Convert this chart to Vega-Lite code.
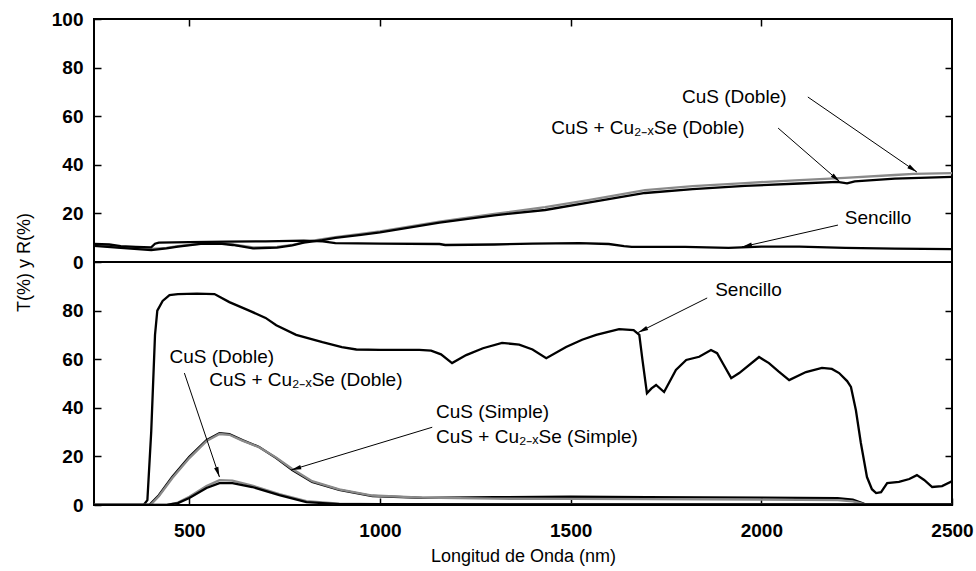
{
  "$schema": "https://vega.github.io/schema/vega-lite/v6.json",
  "background": "white",
  "padding": {"left": 14, "top": 9, "right": 5, "bottom": 5},
  "spacing": 0,
  "bounds": "flush",
  "config": {
    "view": {"stroke": "black", "strokeWidth": 2},
    "font": "Liberation Sans",
    "axis": {
      "grid": false, "domain": false, "tickColor": "black", "tickSize": -7, "tickWidth": 1.5,
      "labelColor": "black", "labelFont": "Liberation Sans", "labelFontSize": 19, "labelFontWeight": "bold",
      "labelFlush": false, "labelOverlap": false, "format": "d",
      "titleColor": "black", "titleFont": "Liberation Sans", "titleFontSize": 18, "titleFontWeight": "normal"
    }
  },
  "datasets": {
    "R": [
      {"serie": "CuS (Doble)", "nm": 250, "pct": 7}, {"serie": "CuS (Doble)", "nm": 320, "pct": 6}, {"serie": "CuS (Doble)", "nm": 400, "pct": 5.4}, {"serie": "CuS (Doble)", "nm": 440, "pct": 5.8}, {"serie": "CuS (Doble)", "nm": 470, "pct": 6.5}, {"serie": "CuS (Doble)", "nm": 530, "pct": 7.6}, {"serie": "CuS (Doble)", "nm": 580, "pct": 7.8}, {"serie": "CuS (Doble)", "nm": 614, "pct": 7.2}, {"serie": "CuS (Doble)", "nm": 667, "pct": 6}, {"serie": "CuS (Doble)", "nm": 730, "pct": 6.2}, {"serie": "CuS (Doble)", "nm": 770, "pct": 7}, {"serie": "CuS (Doble)", "nm": 800, "pct": 8.2}, {"serie": "CuS (Doble)", "nm": 849, "pct": 9.4}, {"serie": "CuS (Doble)", "nm": 883, "pct": 10.2}, {"serie": "CuS (Doble)", "nm": 950, "pct": 11.6}, {"serie": "CuS (Doble)", "nm": 1000, "pct": 12.6}, {"serie": "CuS (Doble)", "nm": 1156, "pct": 16.6}, {"serie": "CuS (Doble)", "nm": 1300, "pct": 19.8}, {"serie": "CuS (Doble)", "nm": 1433, "pct": 22.6}, {"serie": "CuS (Doble)", "nm": 1550, "pct": 25.6}, {"serie": "CuS (Doble)", "nm": 1695, "pct": 29.6}, {"serie": "CuS (Doble)", "nm": 1820, "pct": 31.2}, {"serie": "CuS (Doble)", "nm": 1957, "pct": 32.5}, {"serie": "CuS (Doble)", "nm": 2100, "pct": 33.7}, {"serie": "CuS (Doble)", "nm": 2219, "pct": 34.6}, {"serie": "CuS (Doble)", "nm": 2350, "pct": 35.8}, {"serie": "CuS (Doble)", "nm": 2400, "pct": 36.3}, {"serie": "CuS (Doble)", "nm": 2500, "pct": 36.6},
      {"serie": "CuS + Cu2-xSe (Doble)", "nm": 250, "pct": 6.6}, {"serie": "CuS + Cu2-xSe (Doble)", "nm": 320, "pct": 5.8}, {"serie": "CuS + Cu2-xSe (Doble)", "nm": 400, "pct": 4.9}, {"serie": "CuS + Cu2-xSe (Doble)", "nm": 440, "pct": 5.6}, {"serie": "CuS + Cu2-xSe (Doble)", "nm": 470, "pct": 6.3}, {"serie": "CuS + Cu2-xSe (Doble)", "nm": 530, "pct": 7.5}, {"serie": "CuS + Cu2-xSe (Doble)", "nm": 580, "pct": 7.6}, {"serie": "CuS + Cu2-xSe (Doble)", "nm": 614, "pct": 7}, {"serie": "CuS + Cu2-xSe (Doble)", "nm": 667, "pct": 5.6}, {"serie": "CuS + Cu2-xSe (Doble)", "nm": 730, "pct": 5.9}, {"serie": "CuS + Cu2-xSe (Doble)", "nm": 770, "pct": 6.8}, {"serie": "CuS + Cu2-xSe (Doble)", "nm": 800, "pct": 8}, {"serie": "CuS + Cu2-xSe (Doble)", "nm": 849, "pct": 9}, {"serie": "CuS + Cu2-xSe (Doble)", "nm": 883, "pct": 9.9}, {"serie": "CuS + Cu2-xSe (Doble)", "nm": 950, "pct": 11.2}, {"serie": "CuS + Cu2-xSe (Doble)", "nm": 1000, "pct": 12.2}, {"serie": "CuS + Cu2-xSe (Doble)", "nm": 1156, "pct": 16.2}, {"serie": "CuS + Cu2-xSe (Doble)", "nm": 1300, "pct": 19.2}, {"serie": "CuS + Cu2-xSe (Doble)", "nm": 1433, "pct": 21.4}, {"serie": "CuS + Cu2-xSe (Doble)", "nm": 1550, "pct": 24.5}, {"serie": "CuS + Cu2-xSe (Doble)", "nm": 1695, "pct": 28.4}, {"serie": "CuS + Cu2-xSe (Doble)", "nm": 1820, "pct": 30}, {"serie": "CuS + Cu2-xSe (Doble)", "nm": 1957, "pct": 31.3}, {"serie": "CuS + Cu2-xSe (Doble)", "nm": 2100, "pct": 32.3}, {"serie": "CuS + Cu2-xSe (Doble)", "nm": 2200, "pct": 33}, {"serie": "CuS + Cu2-xSe (Doble)", "nm": 2225, "pct": 32.4}, {"serie": "CuS + Cu2-xSe (Doble)", "nm": 2245, "pct": 33.2}, {"serie": "CuS + Cu2-xSe (Doble)", "nm": 2350, "pct": 34.3}, {"serie": "CuS + Cu2-xSe (Doble)", "nm": 2500, "pct": 35},
      {"serie": "Sencillo", "nm": 250, "pct": 7.5}, {"serie": "Sencillo", "nm": 290, "pct": 7.2}, {"serie": "Sencillo", "nm": 320, "pct": 6.5}, {"serie": "Sencillo", "nm": 360, "pct": 6.2}, {"serie": "Sencillo", "nm": 400, "pct": 6}, {"serie": "Sencillo", "nm": 410, "pct": 7.5}, {"serie": "Sencillo", "nm": 420, "pct": 8}, {"serie": "Sencillo", "nm": 500, "pct": 8.2}, {"serie": "Sencillo", "nm": 600, "pct": 8.4}, {"serie": "Sencillo", "nm": 700, "pct": 8.5}, {"serie": "Sencillo", "nm": 800, "pct": 8.8}, {"serie": "Sencillo", "nm": 850, "pct": 8.5}, {"serie": "Sencillo", "nm": 883, "pct": 7.8}, {"serie": "Sencillo", "nm": 1000, "pct": 7.6}, {"serie": "Sencillo", "nm": 1156, "pct": 7.4}, {"serie": "Sencillo", "nm": 1171, "pct": 7}, {"serie": "Sencillo", "nm": 1300, "pct": 7.2}, {"serie": "Sencillo", "nm": 1400, "pct": 7.6}, {"serie": "Sencillo", "nm": 1522, "pct": 7.8}, {"serie": "Sencillo", "nm": 1600, "pct": 7.4}, {"serie": "Sencillo", "nm": 1640, "pct": 6.5}, {"serie": "Sencillo", "nm": 1660, "pct": 6.2}, {"serie": "Sencillo", "nm": 1800, "pct": 6.2}, {"serie": "Sencillo", "nm": 1914, "pct": 5.8}, {"serie": "Sencillo", "nm": 2000, "pct": 6.3}, {"serie": "Sencillo", "nm": 2100, "pct": 6.3}, {"serie": "Sencillo", "nm": 2220, "pct": 5.8}, {"serie": "Sencillo", "nm": 2350, "pct": 5.5}, {"serie": "Sencillo", "nm": 2500, "pct": 5.3}
    ],
    "T": [
      {"serie": "Sencillo", "nm": 250, "pct": 0}, {"serie": "Sencillo", "nm": 380, "pct": 0}, {"serie": "Sencillo", "nm": 390, "pct": 2}, {"serie": "Sencillo", "nm": 400, "pct": 30}, {"serie": "Sencillo", "nm": 410, "pct": 70}, {"serie": "Sencillo", "nm": 416, "pct": 80}, {"serie": "Sencillo", "nm": 430, "pct": 84}, {"serie": "Sencillo", "nm": 448, "pct": 86.4}, {"serie": "Sencillo", "nm": 470, "pct": 86.8}, {"serie": "Sencillo", "nm": 520, "pct": 87}, {"serie": "Sencillo", "nm": 566, "pct": 86.8}, {"serie": "Sencillo", "nm": 605, "pct": 83.5}, {"serie": "Sencillo", "nm": 657, "pct": 80}, {"serie": "Sencillo", "nm": 700, "pct": 77}, {"serie": "Sencillo", "nm": 728, "pct": 74}, {"serie": "Sencillo", "nm": 780, "pct": 70}, {"serie": "Sencillo", "nm": 849, "pct": 67}, {"serie": "Sencillo", "nm": 900, "pct": 65}, {"serie": "Sencillo", "nm": 938, "pct": 64}, {"serie": "Sencillo", "nm": 1000, "pct": 63.8}, {"serie": "Sencillo", "nm": 1103, "pct": 63.8}, {"serie": "Sencillo", "nm": 1134, "pct": 63.5}, {"serie": "Sencillo", "nm": 1160, "pct": 62}, {"serie": "Sencillo", "nm": 1189, "pct": 58.4}, {"serie": "Sencillo", "nm": 1226, "pct": 61.7}, {"serie": "Sencillo", "nm": 1270, "pct": 64.5}, {"serie": "Sencillo", "nm": 1320, "pct": 66.7}, {"serie": "Sencillo", "nm": 1365, "pct": 66}, {"serie": "Sencillo", "nm": 1400, "pct": 64}, {"serie": "Sencillo", "nm": 1436, "pct": 60.4}, {"serie": "Sencillo", "nm": 1488, "pct": 65}, {"serie": "Sencillo", "nm": 1530, "pct": 68}, {"serie": "Sencillo", "nm": 1567, "pct": 70}, {"serie": "Sencillo", "nm": 1627, "pct": 72.4}, {"serie": "Sencillo", "nm": 1665, "pct": 72}, {"serie": "Sencillo", "nm": 1680, "pct": 70}, {"serie": "Sencillo", "nm": 1688, "pct": 60}, {"serie": "Sencillo", "nm": 1700, "pct": 46}, {"serie": "Sencillo", "nm": 1712, "pct": 48}, {"serie": "Sencillo", "nm": 1724, "pct": 49.4}, {"serie": "Sencillo", "nm": 1745, "pct": 46.5}, {"serie": "Sencillo", "nm": 1776, "pct": 55.6}, {"serie": "Sencillo", "nm": 1803, "pct": 59.7}, {"serie": "Sencillo", "nm": 1837, "pct": 61}, {"serie": "Sencillo", "nm": 1868, "pct": 63.8}, {"serie": "Sencillo", "nm": 1884, "pct": 62.5}, {"serie": "Sencillo", "nm": 1900, "pct": 58}, {"serie": "Sencillo", "nm": 1921, "pct": 52.2}, {"serie": "Sencillo", "nm": 1942, "pct": 54.3}, {"serie": "Sencillo", "nm": 1994, "pct": 60.9}, {"serie": "Sencillo", "nm": 2020, "pct": 58.4}, {"serie": "Sencillo", "nm": 2045, "pct": 55}, {"serie": "Sencillo", "nm": 2073, "pct": 51.4}, {"serie": "Sencillo", "nm": 2117, "pct": 54.7}, {"serie": "Sencillo", "nm": 2159, "pct": 56.4}, {"serie": "Sencillo", "nm": 2185, "pct": 56}, {"serie": "Sencillo", "nm": 2204, "pct": 54.3}, {"serie": "Sencillo", "nm": 2225, "pct": 51}, {"serie": "Sencillo", "nm": 2235, "pct": 48.6}, {"serie": "Sencillo", "nm": 2248, "pct": 39}, {"serie": "Sencillo", "nm": 2261, "pct": 25.5}, {"serie": "Sencillo", "nm": 2277, "pct": 11.5}, {"serie": "Sencillo", "nm": 2290, "pct": 6.5}, {"serie": "Sencillo", "nm": 2301, "pct": 4.9}, {"serie": "Sencillo", "nm": 2314, "pct": 5.3}, {"serie": "Sencillo", "nm": 2330, "pct": 9}, {"serie": "Sencillo", "nm": 2361, "pct": 9.5}, {"serie": "Sencillo", "nm": 2388, "pct": 10.7}, {"serie": "Sencillo", "nm": 2408, "pct": 12.3}, {"serie": "Sencillo", "nm": 2427, "pct": 10.3}, {"serie": "Sencillo", "nm": 2448, "pct": 7.4}, {"serie": "Sencillo", "nm": 2474, "pct": 7.8}, {"serie": "Sencillo", "nm": 2497, "pct": 9.5}, {"serie": "Sencillo", "nm": 2500, "pct": 10},
      {"serie": "CuS (Simple)", "nm": 250, "pct": 0}, {"serie": "CuS (Simple)", "nm": 395, "pct": 0}, {"serie": "CuS (Simple)", "nm": 420, "pct": 4}, {"serie": "CuS (Simple)", "nm": 455, "pct": 11.5}, {"serie": "CuS (Simple)", "nm": 500, "pct": 19.8}, {"serie": "CuS (Simple)", "nm": 545, "pct": 26.7}, {"serie": "CuS (Simple)", "nm": 579, "pct": 29.6}, {"serie": "CuS (Simple)", "nm": 605, "pct": 29.2}, {"serie": "CuS (Simple)", "nm": 639, "pct": 26.7}, {"serie": "CuS (Simple)", "nm": 683, "pct": 23.9}, {"serie": "CuS (Simple)", "nm": 728, "pct": 19.3}, {"serie": "CuS (Simple)", "nm": 770, "pct": 14.4}, {"serie": "CuS (Simple)", "nm": 822, "pct": 9.5}, {"serie": "CuS (Simple)", "nm": 893, "pct": 6.2}, {"serie": "CuS (Simple)", "nm": 980, "pct": 3.7}, {"serie": "CuS (Simple)", "nm": 1111, "pct": 2.9}, {"serie": "CuS (Simple)", "nm": 1300, "pct": 3.2}, {"serie": "CuS (Simple)", "nm": 1500, "pct": 3.4}, {"serie": "CuS (Simple)", "nm": 1700, "pct": 3.2}, {"serie": "CuS (Simple)", "nm": 2000, "pct": 3}, {"serie": "CuS (Simple)", "nm": 2200, "pct": 2.8}, {"serie": "CuS (Simple)", "nm": 2240, "pct": 2.2}, {"serie": "CuS (Simple)", "nm": 2270, "pct": 0.5}, {"serie": "CuS (Simple)", "nm": 2300, "pct": 0.2}, {"serie": "CuS (Simple)", "nm": 2500, "pct": 0.2},
      {"serie": "CuS + Cu2-xSe (Simple)", "nm": 250, "pct": 0}, {"serie": "CuS + Cu2-xSe (Simple)", "nm": 398, "pct": 0}, {"serie": "CuS + Cu2-xSe (Simple)", "nm": 420, "pct": 3.6}, {"serie": "CuS + Cu2-xSe (Simple)", "nm": 455, "pct": 11}, {"serie": "CuS + Cu2-xSe (Simple)", "nm": 500, "pct": 19.3}, {"serie": "CuS + Cu2-xSe (Simple)", "nm": 545, "pct": 26.3}, {"serie": "CuS + Cu2-xSe (Simple)", "nm": 579, "pct": 29.2}, {"serie": "CuS + Cu2-xSe (Simple)", "nm": 605, "pct": 28.9}, {"serie": "CuS + Cu2-xSe (Simple)", "nm": 639, "pct": 26.5}, {"serie": "CuS + Cu2-xSe (Simple)", "nm": 683, "pct": 23.8}, {"serie": "CuS + Cu2-xSe (Simple)", "nm": 728, "pct": 19.5}, {"serie": "CuS + Cu2-xSe (Simple)", "nm": 770, "pct": 14.8}, {"serie": "CuS + Cu2-xSe (Simple)", "nm": 822, "pct": 9.8}, {"serie": "CuS + Cu2-xSe (Simple)", "nm": 893, "pct": 6.4}, {"serie": "CuS + Cu2-xSe (Simple)", "nm": 980, "pct": 3.9}, {"serie": "CuS + Cu2-xSe (Simple)", "nm": 1111, "pct": 3}, {"serie": "CuS + Cu2-xSe (Simple)", "nm": 1300, "pct": 2.6}, {"serie": "CuS + Cu2-xSe (Simple)", "nm": 1500, "pct": 2.5}, {"serie": "CuS + Cu2-xSe (Simple)", "nm": 1700, "pct": 2.4}, {"serie": "CuS + Cu2-xSe (Simple)", "nm": 2000, "pct": 2.2}, {"serie": "CuS + Cu2-xSe (Simple)", "nm": 2200, "pct": 2}, {"serie": "CuS + Cu2-xSe (Simple)", "nm": 2240, "pct": 1.5}, {"serie": "CuS + Cu2-xSe (Simple)", "nm": 2270, "pct": 0.4}, {"serie": "CuS + Cu2-xSe (Simple)", "nm": 2500, "pct": 0.2},
      {"serie": "CuS (Doble)", "nm": 250, "pct": 0}, {"serie": "CuS (Doble)", "nm": 440, "pct": 0}, {"serie": "CuS (Doble)", "nm": 470, "pct": 1}, {"serie": "CuS (Doble)", "nm": 500, "pct": 3.4}, {"serie": "CuS (Doble)", "nm": 545, "pct": 7.8}, {"serie": "CuS (Doble)", "nm": 579, "pct": 10.2}, {"serie": "CuS (Doble)", "nm": 613, "pct": 10}, {"serie": "CuS (Doble)", "nm": 665, "pct": 8}, {"serie": "CuS (Doble)", "nm": 736, "pct": 4.5}, {"serie": "CuS (Doble)", "nm": 807, "pct": 1.6}, {"serie": "CuS (Doble)", "nm": 893, "pct": 0.6}, {"serie": "CuS (Doble)", "nm": 1000, "pct": 0.4}, {"serie": "CuS (Doble)", "nm": 2200, "pct": 0.3}, {"serie": "CuS (Doble)", "nm": 2500, "pct": 0.2},
      {"serie": "CuS + Cu2-xSe (Doble)", "nm": 250, "pct": 0}, {"serie": "CuS + Cu2-xSe (Doble)", "nm": 440, "pct": 0}, {"serie": "CuS + Cu2-xSe (Doble)", "nm": 470, "pct": 0.8}, {"serie": "CuS + Cu2-xSe (Doble)", "nm": 500, "pct": 2.9}, {"serie": "CuS + Cu2-xSe (Doble)", "nm": 545, "pct": 7}, {"serie": "CuS + Cu2-xSe (Doble)", "nm": 579, "pct": 9}, {"serie": "CuS + Cu2-xSe (Doble)", "nm": 613, "pct": 9}, {"serie": "CuS + Cu2-xSe (Doble)", "nm": 665, "pct": 7.4}, {"serie": "CuS + Cu2-xSe (Doble)", "nm": 736, "pct": 4.1}, {"serie": "CuS + Cu2-xSe (Doble)", "nm": 807, "pct": 1.2}, {"serie": "CuS + Cu2-xSe (Doble)", "nm": 893, "pct": 0.4}, {"serie": "CuS + Cu2-xSe (Doble)", "nm": 1000, "pct": 0.3}, {"serie": "CuS + Cu2-xSe (Doble)", "nm": 2500, "pct": 0.2}
    ],
    "labels": [
      {"panel": "R", "label": "CuS (Doble)", "tx": 1792, "ty": 67.9},
      {"panel": "R", "label": "CuS + Cu₂₋ₓSe (Doble)", "tx": 1449, "ty": 55.1},
      {"panel": "R", "label": "Sencillo", "tx": 2219, "ty": 18.1},
      {"panel": "T", "label": "Sencillo", "tx": 1879, "ty": 88.5},
      {"panel": "T", "label": "CuS (Doble)", "tx": 448, "ty": 60.9},
      {"panel": "T", "label": "CuS + Cu₂₋ₓSe (Doble)", "tx": 552, "ty": 51.4},
      {"panel": "T", "label": "CuS (Simple)", "tx": 1147, "ty": 38.3},
      {"panel": "T", "label": "CuS + Cu₂₋ₓSe (Simple)", "tx": 1147, "ty": 28}
    ],
    "arrows": [
      {"panel": "R", "ax": 2122, "ay": 67.9, "bx": 2408, "by": 37},
      {"panel": "R", "ax": 2044, "ay": 55.1, "bx": 2206, "by": 33},
      {"panel": "R", "ax": 2201, "ay": 15.2, "bx": 1949, "by": 6.2},
      {"panel": "T", "ax": 1858, "ay": 85.2, "bx": 1677, "by": 71},
      {"panel": "T", "ax": 487, "ay": 54.3, "bx": 579, "by": 11.5},
      {"panel": "T", "ax": 1137, "ay": 32, "bx": 767, "by": 14.4}
    ]
  },
  "vconcat": [
    {
      "width": 858,
      "height": 243,
      "resolve": {"axis": {"x": "independent", "y": "independent"}},
      "layer": [
        {
          "data": {"name": "R"},
          "mark": {"type": "line", "strokeWidth": 2.3, "clip": true},
          "encoding": {
            "x": {"field": "nm", "type": "quantitative", "scale": {"domain": [250, 2500], "nice": false, "zero": false},
                  "axis": {"orient": "top", "labels": false, "values": [500, 1000, 1500, 2000], "title": null}},
            "y": {"field": "pct", "type": "quantitative", "scale": {"domain": [0, 100], "nice": false},
                  "axis": {"orient": "left", "values": [0, 20, 40, 60, 80, 100], "labelPadding": 18, "title": "T(%) y R(%)", "titleY": 243, "titlePadding": 18}},
            "color": {"field": "serie", "type": "nominal", "legend": null,
                      "scale": {"domain": ["CuS (Doble)", "CuS + Cu2-xSe (Doble)", "Sencillo"], "range": ["#8a8a8a", "#000000", "#000000"]}}
          }
        },
        {
          "data": {"name": "R"},
          "mark": {"type": "line", "opacity": 0},
          "encoding": {
            "x": {"field": "nm", "type": "quantitative", "axis": null},
            "y": {"field": "pct", "type": "quantitative", "axis": {"orient": "right", "labels": false, "values": [20, 40, 60, 80], "title": null}},
            "detail": {"field": "serie"}
          }
        },
        {
          "data": {"name": "arrows"},
          "transform": [{"filter": "datum.panel == 'R'"}],
          "mark": {"type": "rule", "color": "black", "strokeWidth": 1},
          "encoding": {
            "x": {"field": "ax", "type": "quantitative", "axis": null},
            "y": {"field": "ay", "type": "quantitative", "axis": null},
            "x2": {"field": "bx"},
            "y2": {"field": "by"}
          }
        },
        {
          "data": {"name": "arrows"},
          "transform": [{"filter": "datum.panel == 'R'"}, {"calculate": "atan2((datum.bx - datum.ax) * 858 / 2250, (datum.by - datum.ay) * 2.43) * 180 / PI", "as": "ang"}],
          "mark": {"type": "point", "shape": "M0,0L-0.35,1.6L0.35,1.6Z", "filled": true, "color": "black", "size": 160, "opacity": 1},
          "encoding": {
            "x": {"field": "bx", "type": "quantitative", "axis": null},
            "y": {"field": "by", "type": "quantitative", "axis": null},
            "angle": {"field": "ang", "type": "quantitative", "scale": null}
          }
        },
        {
          "data": {"name": "labels"},
          "transform": [{"filter": "datum.panel == 'R'"}],
          "mark": {"type": "text", "align": "left", "baseline": "middle", "fontSize": 19, "font": "Liberation Sans", "color": "black"},
          "encoding": {
            "x": {"field": "tx", "type": "quantitative", "axis": null},
            "y": {"field": "ty", "type": "quantitative", "axis": null},
            "text": {"field": "label"}
          }
        }
      ]
    },
    {
      "width": 858,
      "height": 243,
      "resolve": {"axis": {"x": "independent", "y": "independent"}},
      "layer": [
        {
          "data": {"name": "T"},
          "mark": {"type": "line", "strokeWidth": 2.3, "clip": true},
          "encoding": {
            "x": {"field": "nm", "type": "quantitative", "scale": {"domain": [250, 2500], "nice": false, "zero": false},
                  "axis": {"orient": "bottom", "values": [500, 1000, 1500, 2000, 2500], "labelPadding": 23, "title": "Longitud de Onda (nm)", "titlePadding": 7}},
            "y": {"field": "pct", "type": "quantitative", "scale": {"domain": [0, 100], "nice": false},
                  "axis": {"orient": "left", "values": [0, 20, 40, 60, 80], "labelPadding": 18, "title": null}},
            "color": {"field": "serie", "type": "nominal", "legend": null,
                      "scale": {"domain": ["CuS (Doble)", "CuS + Cu2-xSe (Simple)", "Sencillo", "CuS (Simple)", "CuS + Cu2-xSe (Doble)"], "range": ["#8a8a8a", "#8a8a8a", "#000000", "#000000", "#000000"]}}
          }
        },
        {
          "data": {"name": "T"},
          "mark": {"type": "line", "opacity": 0},
          "encoding": {
            "x": {"field": "nm", "type": "quantitative", "axis": null},
            "y": {"field": "pct", "type": "quantitative", "axis": {"orient": "right", "labels": false, "values": [20, 40, 60, 80], "title": null}},
            "detail": {"field": "serie"}
          }
        },
        {
          "data": {"name": "arrows"},
          "transform": [{"filter": "datum.panel == 'T'"}],
          "mark": {"type": "rule", "color": "black", "strokeWidth": 1},
          "encoding": {
            "x": {"field": "ax", "type": "quantitative", "axis": null},
            "y": {"field": "ay", "type": "quantitative", "axis": null},
            "x2": {"field": "bx"},
            "y2": {"field": "by"}
          }
        },
        {
          "data": {"name": "arrows"},
          "transform": [{"filter": "datum.panel == 'T'"}, {"calculate": "atan2((datum.bx - datum.ax) * 858 / 2250, (datum.by - datum.ay) * 2.43) * 180 / PI", "as": "ang"}],
          "mark": {"type": "point", "shape": "M0,0L-0.35,1.6L0.35,1.6Z", "filled": true, "color": "black", "size": 160, "opacity": 1},
          "encoding": {
            "x": {"field": "bx", "type": "quantitative", "axis": null},
            "y": {"field": "by", "type": "quantitative", "axis": null},
            "angle": {"field": "ang", "type": "quantitative", "scale": null}
          }
        },
        {
          "data": {"name": "labels"},
          "transform": [{"filter": "datum.panel == 'T'"}],
          "mark": {"type": "text", "align": "left", "baseline": "middle", "fontSize": 19, "font": "Liberation Sans", "color": "black"},
          "encoding": {
            "x": {"field": "tx", "type": "quantitative", "axis": null},
            "y": {"field": "ty", "type": "quantitative", "axis": null},
            "text": {"field": "label"}
          }
        }
      ]
    }
  ]
}
